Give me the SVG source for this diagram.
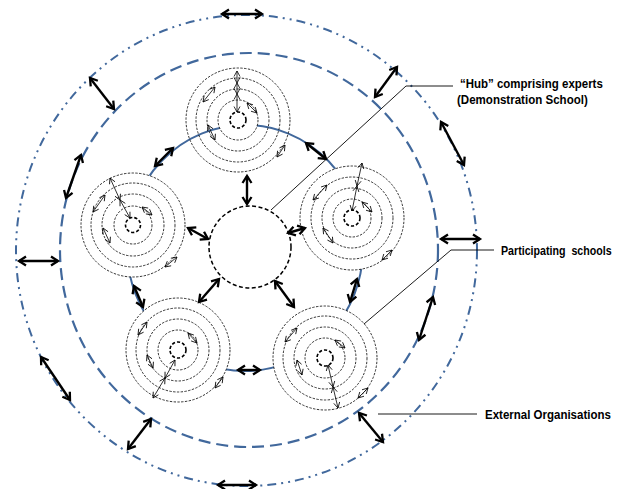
<svg xmlns="http://www.w3.org/2000/svg" width="620" height="489" viewBox="0 0 620 489">
<style>
.ring{fill:none;stroke:#000;stroke-width:0.8;stroke-dasharray:2.4 1.4}
.wring{fill:#fff;stroke:#000;stroke-width:0.8;stroke-dasharray:2.4 1.4}
.core{fill:#fff;stroke:#000;stroke-width:1.6;stroke-dasharray:3.2 2}
.thin{stroke:#000;stroke-width:0.8;fill:none;marker-start:url(#th);marker-end:url(#th)}
.thick{stroke:#000;stroke-width:2.4;fill:none;marker-start:url(#tk);marker-end:url(#tk)}
.lead{stroke:#000;stroke-width:0.9;fill:none}
.lbl{font-family:"Liberation Sans",Arial,sans-serif;font-weight:bold;font-size:13px;fill:#000}
</style>
<defs>
<marker id="th" markerUnits="userSpaceOnUse" markerWidth="8" markerHeight="8" refX="6" refY="3.5" orient="auto-start-reverse" overflow="visible">
<path d="M0.5,0.5 L6,3.5 L0.5,6.5" fill="none" stroke="#000" stroke-width="0.8"/>
</marker>
<marker id="tk" markerUnits="userSpaceOnUse" markerWidth="12" markerHeight="12" refX="8" refY="5" orient="auto-start-reverse" overflow="visible">
<path d="M1,0.5 L8,5 L1,9.5" fill="none" stroke="#000" stroke-width="2.3"/>
</marker>
</defs>
<rect width="620" height="489" fill="#fff"/>
<g id="external-organisations-ring">
<ellipse cx="246.5" cy="250.5" rx="230.5" ry="235.5" fill="none" stroke="#41689c" stroke-width="2" stroke-dasharray="9 5 2 5 2 5"/>
</g>
<g id="participating-schools-ring">
<ellipse cx="249" cy="250" rx="189" ry="197" fill="none" stroke="#41689c" stroke-width="2.2" stroke-dasharray="12 6"/>
</g>
<g id="school-network">
<ellipse cx="245" cy="248" rx="118" ry="123" fill="none" stroke="#41689c" stroke-width="2"/>
</g>
<g id="hub">
<circle cx="250" cy="247" r="41" fill="#fff" stroke="#000" stroke-width="1.5" stroke-dasharray="4 2.5"/>
</g>
<g id="school-top" transform="translate(238,120)">
<circle class="ring" r="52"/><circle class="ring" r="42"/><circle class="ring" r="31"/><circle class="wring" r="20"/><circle class="core" r="8"/>
<path class="thin" d="M-1,-49 L-1,-37"/><path class="thin" d="M-1,-37 L-1,-26"/><path class="thin" d="M-1,-26 L-1,-8"/>
<path class="thin" d="M-35,-18 L-23,-33"/><path class="thin" d="M9,-17 L19,-7"/><path class="thin" d="M-30,5 L-23,20"/><path class="thin" d="M39,37 L47,25"/>
</g>
<g id="school-right" transform="translate(352,218)">
<circle class="wring" r="52"/><circle class="ring" r="41"/><circle class="ring" r="30"/><circle class="ring" r="19"/><circle class="core" r="8"/>
<path class="thin" d="M10,-55 L5,-32"/><path class="thin" d="M5,-32 L0,-7"/>
<path class="thin" d="M-39,-18 L-25,-33"/><path class="thin" d="M10,-16 L20,-6"/><path class="thin" d="M-29,10 L-19,25"/><path class="thin" d="M30,42 L40,32"/>
</g>
<g id="school-left" transform="translate(133,225)">
<circle class="wring" r="52"/><circle class="ring" r="42"/><circle class="ring" r="31"/><circle class="ring" r="19"/><circle class="core" r="7.5"/>
<path class="thin" d="M-23,-47 L-13,-25"/><path class="thin" d="M-13,-25 L-3,-7"/>
<path class="thin" d="M-40,-13 L-28,-30"/><path class="thin" d="M9,-18 L19,-10"/><path class="thin" d="M-30,3 L-23,18"/><path class="thin" d="M32,42 L44,32"/>
</g>
<g id="school-bottom-left" transform="translate(178,350)">
<circle class="wring" r="52"/><circle class="ring" r="42"/><circle class="ring" r="31"/><circle class="ring" r="20"/><circle class="core" r="8"/>
<path class="thin" d="M-3,10 L-13,28"/><path class="thin" d="M-13,28 L-25,48"/>
<path class="thin" d="M-40,-15 L-31,-28"/><path class="thin" d="M10,-17 L19,-7"/><path class="thin" d="M-31,5 L-25,18"/><path class="thin" d="M37,38 L45,27"/>
</g>
<g id="school-bottom-right" transform="translate(325,358)">
<circle class="wring" r="52"/><circle class="ring" r="42"/><circle class="ring" r="31"/><circle class="ring" r="20"/><circle class="core" r="8"/>
<path class="thin" d="M3,7 L8,29"/><path class="thin" d="M8,29 L13,50"/>
<path class="thin" d="M-40,-16 L-28,-30"/><path class="thin" d="M10,-18 L20,-10"/><path class="thin" d="M-28,2 L-23,17"/><path class="thin" d="M33,40 L43,30"/>
</g>
<g id="connectors">
<path class="thick" d="M222,14 L262,14"/>
<path class="thick" d="M90,78 L114,109"/>
<path class="thick" d="M81,155 L66,198"/>
<path class="thick" d="M19,261 L58,261"/>
<path class="thick" d="M41,357 L70,400"/>
<path class="thick" d="M151,419 L128,449"/>
<path class="thick" d="M218,485 L256,485"/>
<path class="thick" d="M359,413 L383,442"/>
<path class="thick" d="M433,297 L419,340"/>
<path class="thick" d="M441,239 L480,239"/>
<path class="thick" d="M441,122 L464,165"/>
<path class="thick" d="M397,67 L375,97"/>
<path class="thick" d="M173,148 L155,166"/>
<path class="thick" d="M306,143 L326,159"/>
<path class="thick" d="M247,176 L247,204"/>
<path class="thick" d="M188,228 L208,239"/>
<path class="thick" d="M288,233 L305,228"/>
<path class="thick" d="M219,279 L199,302"/>
<path class="thick" d="M275,281 L294,307"/>
<path class="thick" d="M134,286 L143,307"/>
<path class="thick" d="M357,279 L350,302"/>
<path class="thick" d="M238,370 L260,370"/>
<path class="lead" d="M271,210 L406,86 L453,86"/>
<path class="lead" d="M364,324 L451,250 L494,250"/>
<path class="lead" d="M378,414 L477,414"/>
</g>
<g id="labels">
<text class="lbl" transform="translate(460,88) scale(0.884,1)">“Hub” comprising experts</text>
<text class="lbl" transform="translate(457,104) scale(0.889,1)">(Demonstration School)</text>
<text class="lbl" transform="translate(501,255) scale(0.82,1)" xml:space="preserve">Participating  schools</text>
<text class="lbl" transform="translate(485,419) scale(0.885,1)">External Organisations</text>
</g>
</svg>
